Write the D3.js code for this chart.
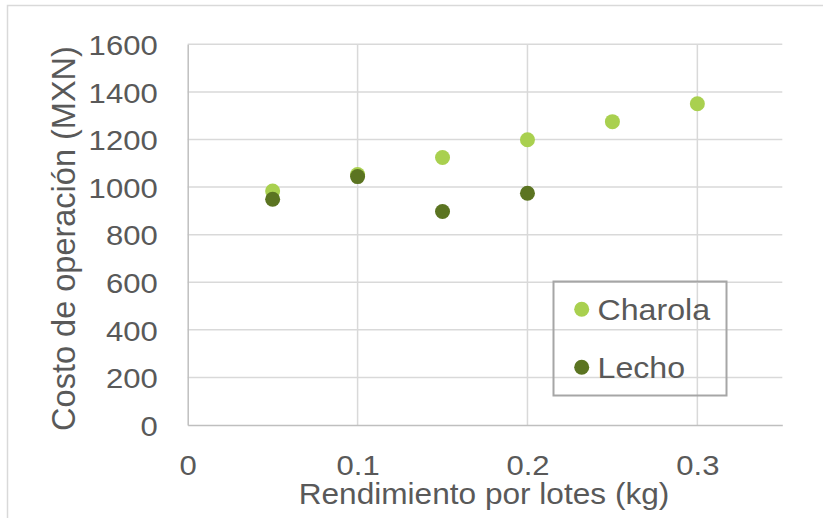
<!DOCTYPE html>
<html>
<head>
<meta charset="utf-8">
<script src="https://cdn.jsdelivr.net/npm/d3@7"></script>
<style>
  html, body { margin: 0; padding: 0; background: #fff; }
  svg { display: block; }
  text { font-family: "Liberation Sans", Arial, sans-serif; fill: #595959; }
</style>
</head>
<body>
<svg id="chart" width="823" height="518"></svg>
<script>
// Operating cost vs. yield per batch
const seriesNames = ["Charola", "Lecho"];
const charolaX = [0.05, 0.10, 0.15, 0.20, 0.25, 0.30];
const charolaY = [983, 1053, 1124, 1199, 1275, 1350];
const lechoX = [0.05, 0.10, 0.15, 0.20];
const lechoY = [949, 1044, 897, 974];
const xTicks = [0, 0.1, 0.2, 0.3];
const yTicks = [0, 200, 400, 600, 800, 1000, 1200, 1400, 1600];
const xTitle = "Rendimiento por lotes (kg)";
const yTitle = "Costo de operación (MXN)";

const colors = { Charola: "#a9d04f", Lecho: "#5b7421" };
const series = [
  { name: "Charola", points: charolaX.map((x, i) => ({ x, y: charolaY[i] })) },
  { name: "Lecho", points: lechoX.map((x, i) => ({ x, y: lechoY[i] })) }
];

const svg = d3.select("#chart");
const W = 823, H = 518;
const plot = { left: 187.7, right: 782.3, top: 44.3, bottom: 425 };
const stretch = 1.09; // glyphs are drawn slightly wide

const x = d3.scaleLinear().domain([0, 0.35]).range([plot.left, plot.right]);
const y = d3.scaleLinear().domain([0, 1600]).range([plot.bottom, plot.top]);

// chart frame
svg.append("rect")
  .attr("x", 7.5).attr("y", 5.5)
  .attr("width", W + 20).attr("height", H + 20)
  .attr("fill", "#fff").attr("stroke", "#d9d9d9").attr("stroke-width", 1.5);

// horizontal gridlines
svg.append("g")
  .selectAll("line")
  .data(yTicks.filter(d => d > 0))
  .join("line")
  .attr("x1", plot.left).attr("x2", plot.right)
  .attr("y1", d => y(d)).attr("y2", d => y(d))
  .attr("stroke", "#d9d9d9").attr("stroke-width", 1.5);

// vertical gridlines
svg.append("g")
  .selectAll("line")
  .data(xTicks.filter(d => d > 0))
  .join("line")
  .attr("x1", d => x(d)).attr("x2", d => x(d))
  .attr("y1", plot.top).attr("y2", plot.bottom)
  .attr("stroke", "#d9d9d9").attr("stroke-width", 1.5);

// widen a text element about its own anchor point
function widen(sel) {
  sel.each(function () {
    const t = d3.select(this);
    const tx = +t.attr("x") || 0, ty = +t.attr("y") || 0;
    t.attr("x", 0).attr("y", 0)
     .attr("transform", `translate(${tx},${ty}) scale(${stretch},1)`);
  });
}

// y axis
const yAxis = svg.append("g")
  .attr("transform", `translate(${plot.left},0)`)
  .call(d3.axisLeft(y).tickValues(yTicks).tickSize(0).tickPadding(30).tickFormat(d3.format("d")));
yAxis.select(".domain").attr("stroke", "#bfbfbf").attr("stroke-width", 1.5);
yAxis.selectAll("text")
  .attr("font-size", 28.5).attr("fill", "#595959")
  .attr("font-family", '"Liberation Sans", Arial, sans-serif')
  .attr("dy", "0.36em")
  .call(widen);

// x axis
const xAxis = svg.append("g")
  .attr("transform", `translate(0,${plot.bottom})`)
  .call(d3.axisBottom(x).tickValues(xTicks).tickSize(0).tickFormat(d => d === 0 ? "0" : d3.format(".1f")(d)));
xAxis.select(".domain").attr("stroke", "#bfbfbf").attr("stroke-width", 1.5);
xAxis.selectAll("text")
  .attr("font-size", 28.5).attr("fill", "#595959")
  .attr("font-family", '"Liberation Sans", Arial, sans-serif')
  .attr("y", 50).attr("dy", 0)
  .call(widen);

// axis titles
svg.append("text")
  .attr("text-anchor", "middle")
  .attr("font-size", 29)
  .attr("transform", `translate(${(plot.left + plot.right) / 2 - 1},503.5) scale(${stretch},1)`)
  .text(xTitle);

svg.append("text")
  .attr("text-anchor", "middle")
  .attr("font-size", 32.5)
  .attr("transform", `translate(75,238.5) rotate(-90)`)
  .text(yTitle);

// points
series.forEach(s => {
  svg.append("g")
    .selectAll("circle")
    .data(s.points)
    .join("circle")
    .attr("cx", d => x(d.x))
    .attr("cy", d => y(d.y))
    .attr("r", 7.5)
    .attr("fill", colors[s.name]);
});

// legend
const legend = svg.append("g");
legend.append("rect")
  .attr("x", 553.5).attr("y", 281.5)
  .attr("width", 173).attr("height", 114)
  .attr("fill", "none").attr("stroke", "#a6a6a6").attr("stroke-width", 2);
const legendRows = [309.3, 367.3];
seriesNames.forEach((name, i) => {
  legend.append("circle")
    .attr("cx", 581.7).attr("cy", legendRows[i]).attr("r", 7.5)
    .attr("fill", colors[name]);
  legend.append("text")
    .attr("font-size", 29.5)
    .attr("transform", `translate(597.5,${legendRows[i] + 10.5}) scale(${stretch},1)`)
    .text(name);
});
</script>
</body>
</html>
